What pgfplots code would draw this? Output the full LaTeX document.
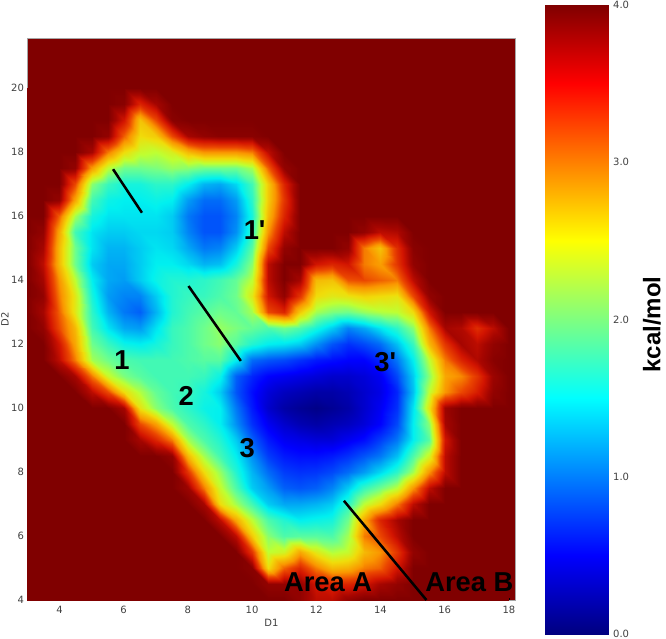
\documentclass[border=0pt]{standalone}
\usepackage{fontspec}
\setmainfont{DejaVu Sans}
\newfontfamily\arialfont{Liberation Sans}
\usepackage{pgfplots}
\pgfplotsset{compat=1.18}
\definecolor{jettop}{RGB}{128,0,0}
\definecolor{ticktext}{gray}{0.25}
\pgfplotsset{
  colormap={softjet}{
    rgb255(0pt)=(0,0,128); rgb255(5pt)=(0,0,255); rgb255(15pt)=(0,240,240);
    rgb255(20pt)=(110,255,140); rgb255(23pt)=(190,255,50); rgb255(26pt)=(240,220,10);
    rgb255(30pt)=(250,150,0); rgb255(33pt)=(235,70,0); rgb255(36pt)=(210,20,0);
    rgb255(38pt)=(165,5,0); rgb255(40pt)=(128,0,0)
  }
}
\tikzset{lab/.style={font=\arialfont\fontsize{20.5}{21}\selectfont\bfseries,text=black,inner sep=0pt}}
\begin{document}
\begin{tikzpicture}
\path[use as bounding box] (0,0) rectangle (499.5pt,478.5pt);
\begin{axis}[
  at={(20.5pt,28.5pt)}, anchor=south west,
  scale only axis,
  width=366pt, height=421.5pt,
  xmin=3, xmax=18.2, ymin=4, ymax=21.56,
  axis background/.style={fill=jettop},
  axis line style={gray!70, line width=0.5pt},
  xtick={4,6,...,18}, ytick={4,6,...,20},
  tick style={black, line width=0.3pt},
  major tick length=1.5pt,
  tick pos=left,
  /pgf/number format/assume math mode=true,
  tick label style={font=\fontsize{7.5}{8}\selectfont, text=ticktext},
  xticklabel style={yshift=-1pt},
  yticklabel style={xshift=1pt},
  xlabel={D1}, ylabel={D2},
  label style={font=\fontsize{7.5}{8}\selectfont, text=ticktext},
  xlabel style={at={(axis description cs:0.5,0)}, anchor=north, yshift=-11pt},
  ylabel style={at={(axis description cs:0,0.5)}, anchor=south, rotate=0, yshift=10.5pt},
  colormap name=softjet,
  point meta min=0, point meta max=4,
]
\addplot[surf, shader=interp, mesh/cols=31, point meta=explicit]
  table[row sep=\\, header=false, meta index=0,
        x expr={3+0.5*mod(\coordindex,31)},
        y expr={4+0.5*floor((\coordindex+0.5)/31)}] {
4\\4\\4\\4\\4\\4\\4\\4\\4\\4\\4\\4\\4\\4\\4\\4\\4\\3.9\\3.7\\3.7\\3.9\\4\\4\\4\\4\\4\\4\\4\\4\\4\\4\\
4\\4\\4\\4\\4\\4\\4\\4\\4\\4\\4\\4\\4\\4\\4\\3.9\\3.9\\3.9\\3.6\\3.5\\3.5\\3.6\\3.8\\3.9\\4\\4\\4\\4\\4\\4\\4\\
4\\4\\4\\4\\4\\4\\4\\4\\4\\4\\4\\4\\4\\4\\3.95\\2.6\\3.2\\3.5\\3.1\\2.8\\2.85\\3.1\\3.2\\3.6\\4\\4\\4\\4\\4\\4\\4\\
4\\4\\4\\4\\4\\4\\4\\4\\4\\4\\4\\4\\4\\4\\3.4\\2.3\\2.4\\2.9\\2.5\\2.25\\2.35\\2.8\\3.0\\3.4\\3.9\\4\\4\\4\\4\\4\\4\\
4\\4\\4\\4\\4\\4\\4\\4\\4\\4\\4\\4\\4\\3.7\\2.7\\2.1\\1.85\\1.9\\1.9\\1.85\\2.2\\3.1\\3.3\\3.7\\4\\4\\4\\4\\4\\4\\4\\
4\\4\\4\\4\\4\\4\\4\\4\\4\\4\\4\\4\\3.7\\2.9\\2.3\\1.85\\1.65\\1.5\\1.55\\1.6\\2.0\\2.9\\3.5\\3.8\\4\\4\\4\\4\\4\\4\\4\\
4\\4\\4\\4\\4\\4\\4\\4\\4\\4\\4\\3.8\\2.6\\2.2\\1.8\\1.35\\1.2\\1.2\\1.25\\1.35\\1.7\\2.3\\2.6\\3.1\\3.7\\4\\4\\4\\4\\4\\4\\
4\\4\\4\\4\\4\\4\\4\\4\\4\\4\\3.85\\3.1\\2.35\\1.85\\1.35\\1.15\\.9\\.85\\.9\\1.05\\1.35\\1.75\\2.0\\2.3\\3.0\\3.7\\4\\4\\4\\4\\4\\
4\\4\\4\\4\\4\\4\\4\\4\\4\\4\\3.4\\2.6\\2.15\\1.65\\1.25\\.95\\.75\\.7\\.72\\.8\\.95\\1.15\\1.4\\1.7\\2.2\\3.0\\3.7\\4\\4\\4\\4\\
4\\4\\4\\4\\4\\4\\4\\4\\4\\3.9\\2.8\\2.2\\1.8\\1.5\\1.1\\.75\\.6\\.55\\.55\\.6\\.7\\.85\\1.0\\1.3\\1.85\\2.4\\3.7\\4\\4\\4\\4\\
4\\4\\4\\4\\4\\4\\4\\3.8\\3.5\\3.1\\2.2\\1.85\\1.65\\1.35\\.9\\.6\\.45\\.4\\.35\\.35\\.45\\.55\\.75\\1.0\\1.5\\1.9\\3.6\\4\\4\\4\\4\\
4\\4\\4\\4\\4\\4\\4\\3.3\\2.95\\2.3\\1.85\\1.7\\1.5\\1.1\\.7\\.45\\.3\\.2\\.15\\.2\\.25\\.35\\.5\\.8\\1.5\\2.1\\3.8\\4\\4\\4\\4\\
4\\4\\4\\4\\4\\4\\3.8\\2.55\\2.1\\1.85\\1.7\\1.55\\1.5\\1.0\\.6\\.3\\.15\\.08\\.03\\.08\\.15\\.3\\.45\\.7\\1.45\\2.55\\3.85\\4\\4\\4\\4\\
4\\4\\4\\4\\3.7\\3.3\\2.6\\2.25\\1.95\\1.8\\1.75\\1.6\\1.35\\.85\\.55\\.35\\.25\\.2\\.15\\.15\\.2\\.3\\.4\\.65\\1.3\\2.3\\3.0\\3.3\\3.55\\3.9\\4\\
4\\4\\4\\3.8\\3.1\\2.35\\2.05\\1.9\\1.8\\1.8\\1.8\\1.75\\1.55\\.9\\.65\\.5\\.45\\.4\\.35\\.3\\.3\\.35\\.45\\.8\\1.35\\2.1\\2.9\\3.05\\3.4\\3.85\\4\\
4\\4\\3.7\\3.1\\2.2\\2.0\\1.85\\1.8\\1.8\\1.8\\1.85\\1.9\\1.9\\1.5\\.95\\.85\\.8\\.7\\.6\\.55\\.5\\.5\\.65\\1.0\\1.5\\2.3\\3.1\\3.5\\3.75\\3.95\\4\\
4\\4\\3.6\\2.9\\2.0\\1.75\\1.55\\1.5\\1.6\\1.75\\1.85\\2.0\\2.1\\1.9\\1.65\\1.5\\1.45\\1.35\\1.1\\.85\\.7\\.8\\.95\\1.3\\1.75\\2.8\\3.4\\3.8\\3.7\\3.9\\4\\
4\\3.9\\3.3\\2.8\\1.8\\1.45\\1.2\\1.15\\1.45\\1.75\\1.85\\2.0\\2.15\\2.05\\1.95\\1.85\\2.0\\1.85\\1.6\\1.35\\1.05\\1.2\\1.45\\1.7\\2.1\\3.1\\3.8\\3.75\\3.45\\3.7\\4\\
4\\3.8\\3.2\\2.5\\1.7\\1.25\\1.0\\.9\\1.25\\1.65\\1.8\\1.9\\2.0\\1.95\\2.2\\3.3\\3.5\\2.7\\2.2\\2.05\\2.0\\2.15\\2.25\\2.3\\2.6\\3.6\\4\\4\\4\\4\\4\\
4\\3.9\\3.1\\2.5\\1.6\\1.15\\1.05\\1.05\\1.35\\1.65\\1.75\\1.75\\1.85\\2.0\\2.5\\3.6\\3.9\\3.4\\2.6\\2.5\\2.55\\2.65\\2.6\\2.55\\3.3\\3.9\\4\\4\\4\\4\\4\\
4\\3.8\\3.0\\2.3\\1.5\\1.2\\1.15\\1.35\\1.55\\1.65\\1.65\\1.7\\1.8\\1.95\\2.3\\3.7\\4\\3.8\\2.8\\2.75\\3.25\\3.3\\3.2\\3.1\\3.7\\4\\4\\4\\4\\4\\4\\
4\\3.7\\2.8\\2.0\\1.35\\1.2\\1.2\\1.35\\1.5\\1.5\\1.4\\1.25\\1.3\\1.6\\2.1\\3.7\\4\\4\\3.6\\3.5\\3.6\\3.1\\2.95\\3.4\\3.9\\4\\4\\4\\4\\4\\4\\
4\\3.8\\2.8\\2.0\\1.45\\1.25\\1.25\\1.35\\1.45\\1.4\\1.2\\1.0\\1.05\\1.35\\1.9\\3.3\\3.9\\4\\4\\4\\3.9\\3.1\\2.75\\3.45\\3.95\\4\\4\\4\\4\\4\\4\\
4\\3.9\\2.9\\1.8\\1.45\\1.35\\1.35\\1.4\\1.4\\1.35\\1.05\\.85\\.85\\1.1\\1.7\\3.0\\3.7\\4\\4\\4\\4\\3.9\\3.7\\3.75\\4\\4\\4\\4\\4\\4\\4\\
4\\4\\3.2\\2.2\\1.6\\1.45\\1.45\\1.45\\1.45\\1.35\\1.0\\.85\\.85\\1.05\\1.6\\2.8\\3.5\\4\\4\\4\\4\\4\\4\\4\\4\\4\\4\\4\\4\\4\\4\\
4\\4\\3.9\\2.9\\1.8\\1.55\\1.5\\1.5\\1.55\\1.5\\1.15\\.95\\.95\\1.15\\1.7\\2.7\\3.4\\4\\4\\4\\4\\4\\4\\4\\4\\4\\4\\4\\4\\4\\4\\
4\\4\\4\\3.3\\2.1\\1.75\\1.6\\1.6\\1.7\\1.7\\1.5\\1.25\\1.2\\1.4\\1.8\\2.7\\3.5\\4\\4\\4\\4\\4\\4\\4\\4\\4\\4\\4\\4\\4\\4\\
4\\4\\4\\3.9\\2.95\\2.3\\2.0\\2.0\\2.05\\2.15\\2.1\\2.0\\2.0\\2.0\\2.2\\3.2\\3.9\\4\\4\\4\\4\\4\\4\\4\\4\\4\\4\\4\\4\\4\\4\\
4\\4\\4\\4\\3.8\\3.1\\2.6\\2.35\\2.3\\2.45\\2.8\\3.0\\3.0\\3.0\\3.1\\3.7\\4\\4\\4\\4\\4\\4\\4\\4\\4\\4\\4\\4\\4\\4\\4\\
4\\4\\4\\4\\4\\3.9\\3.2\\2.6\\2.7\\3.3\\3.8\\3.9\\3.95\\3.95\\3.95\\4\\4\\4\\4\\4\\4\\4\\4\\4\\4\\4\\4\\4\\4\\4\\4\\
4\\4\\4\\4\\4\\4\\3.6\\2.75\\3.3\\3.95\\4\\4\\4\\4\\4\\4\\4\\4\\4\\4\\4\\4\\4\\4\\4\\4\\4\\4\\4\\4\\4\\
4\\4\\4\\4\\4\\4\\3.95\\3.5\\3.8\\4\\4\\4\\4\\4\\4\\4\\4\\4\\4\\4\\4\\4\\4\\4\\4\\4\\4\\4\\4\\4\\4\\
4\\4\\4\\4\\4\\4\\4\\4\\4\\4\\4\\4\\4\\4\\4\\4\\4\\4\\4\\4\\4\\4\\4\\4\\4\\4\\4\\4\\4\\4\\4\\
};
\addplot[black, line width=1.9pt] coordinates {(5.67,17.46) (6.57,16.1)};
\addplot[black, line width=1.9pt] coordinates {(8.02,13.81) (9.65,11.47)};
\addplot[black, line width=1.9pt] coordinates {(12.86,7.1) (15.43,4)};
\node[lab] at (axis cs:5.95,11.5) {1};
\node[lab] at (axis cs:10.08,15.56) {1'};
\node[lab] at (axis cs:7.95,10.38) {2};
\node[lab] at (axis cs:9.85,8.75) {3};
\node[lab] at (axis cs:14.15,11.44) {3'};
\node[lab] at (axis cs:12.37,4.55) {Area A};
\node[lab] at (axis cs:16.77,4.55) {Area B};
\end{axis}
% colour bar as its own axis
\begin{axis}[
  at={(409.1pt,3pt)}, anchor=south west,
  scale only axis,
  width=47.25pt, height=471.75pt,
  xmin=0, xmax=1, ymin=0, ymax=4,
  clip=false,
  xtick=\empty,
  ytick={0,1,2,3,4},
  ytick pos=right, yticklabel pos=right,
  axis line style={gray!70!black, line width=0.5pt},
  tick style={black, line width=0.3pt},
  major tick length=1.5pt,
  /pgf/number format/assume math mode=true,
  yticklabel style={/pgf/number format/fixed, /pgf/number format/fixed zerofill, /pgf/number format/precision=1,
    font=\fontsize{7.5}{8}\selectfont, text=ticktext},
  colormap/jet,
  point meta min=0, point meta max=4,
]
\addplot[surf, shader=interp, mesh/cols=2, point meta=y] table {
x y
0 0
1 0
0 1
1 1
0 2
1 2
0 3
1 3
0 4
1 4
};
\node[font=\arialfont\fontsize{18}{18}\selectfont\bfseries, rotate=90, inner sep=0pt]
  at (rel axis cs:1.69,0.492) {kcal/mol};
\end{axis}
\end{tikzpicture}
\end{document}
